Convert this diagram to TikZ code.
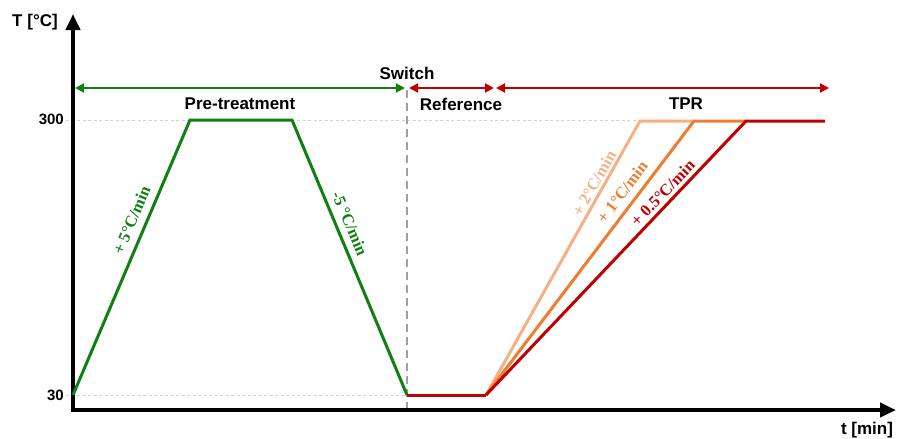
\documentclass[tikz,border=0pt]{standalone}
\usepackage{fontspec}
\setmainfont{Liberation Sans}
\newfontfamily\serifb{Liberation Serif}
\usetikzlibrary{arrows.meta}
\definecolor{cgreen}{RGB}{16,128,16}
\definecolor{cred}{RGB}{192,0,0}
\definecolor{corange}{RGB}{237,125,49}
\definecolor{clight}{RGB}{244,177,131}
\definecolor{cgrey}{RGB}{160,160,160}
\definecolor{cgridl}{RGB}{210,210,210}
\begin{document}
\begin{tikzpicture}[x=1pt,y=-1pt,
  axis/.style={line width=4pt,line join=miter,{Triangle[width=14pt,length=16pt]}-{Triangle[width=14pt,length=16pt]}},
  span/.style={line width=2pt,{Triangle[width=9pt,length=9pt]}-{Triangle[width=9pt,length=9pt]}},
  curve/.style={line width=3pt,line join=miter},
  grid300/.style={cgridl,line width=0.8pt,dash pattern=on 3pt off 2.5pt},
  switchline/.style={cgrey,line width=2.6pt,dash pattern=on 8pt off 5pt},
  title/.style={font=\fontsize{17}{19}\selectfont\bfseries,inner sep=0pt},
  ticklbl/.style={font=\fontsize{15}{17}\selectfont\bfseries,inner sep=0pt,anchor=east},
  slopelbl/.style={font=\serifb\fontsize{16.5}{18}\selectfont\bfseries,sloped,anchor=center,inner sep=0pt}]
\useasboundingbox (0,0) rectangle (897,439);
% axes
\coordinate (Ytop) at (73,14);
\coordinate (O) at (73,410);
\coordinate (Xend) at (896,410);
% grid lines
\coordinate (h300a) at (66,120);
\coordinate (h300b) at (640,120);
\coordinate (h30a) at (66,395);
\coordinate (h30b) at (407,395);
\draw[grid300] (h300a) -- (h300b);
\draw[grid300] (h30a) -- (h30b);
% switch line
\coordinate (sw1) at (407,90);
\coordinate (sw2) at (407,412);
\draw[switchline] (sw1) -- (sw2);
\draw[axis] (Ytop) -- (O) -- (Xend);
% labels on axes
\node[title] (Tlbl) at (35,22) {T [°C]};
\node[title] (tlbl) at (867,430) {t [min]};
\node[ticklbl] (l300) at (64,119) {300};
\node[ticklbl] (l30) at (64,395) {30};
% phase arrows
\coordinate (ga) at (75,88);
\coordinate (gb) at (405,88);
\coordinate (ra) at (409,88);
\coordinate (rb) at (494,88);
\coordinate (ta) at (496,88);
\coordinate (tb) at (829,88);
\draw[span,cgreen] (ga) -- (gb);
\draw[span,cred] (ra) -- (rb);
\draw[span,cred] (ta) -- (tb);
\node[title] (sw) at (407,73) {Switch};
\node[title] (pre) at (240,104) {Pre-treatment};
\node[title] (ref) at (461,104) {Reference};
\node[title] (tpr) at (686,104) {TPR};
% pretreatment curve
\coordinate (g0) at (73,395);
\coordinate (g1) at (190,120);
\coordinate (g2) at (292,120);
\coordinate (g3) at (407,395);
\draw[curve,cgreen] (g0) -- node[slopelbl,pos=0.615,yshift=14.6pt,text=cgreen]{+ 5°C/min} (g1) -- (g2) -- node[slopelbl,pos=0.395,yshift=13.5pt,text=cgreen]{-5 °C/min} (g3);
% TPR curves
\coordinate (r1) at (486,395);
\coordinate (p2) at (640,121);
\coordinate (p1) at (694,121);
\coordinate (p05) at (746,121);
\coordinate (pend) at (825,121);
\draw[curve,cred] (g3) -- (r1);
\draw[curve,clight] (r1) -- node[slopelbl,pos=0.757,yshift=9.7pt,text=clight]{+ 2°C/min} (p2) -- (p1);
\draw[curve,corange] (r1) -- node[slopelbl,pos=0.71,yshift=14.2pt,text=corange]{+ 1°C/min} (p1) -- (p05);
\draw[curve,cred] (r1) -- node[slopelbl,pos=0.71,yshift=10.8pt,text=cred]{+ 0.5°C/min} (p05) -- (pend);
\end{tikzpicture}
\end{document}
